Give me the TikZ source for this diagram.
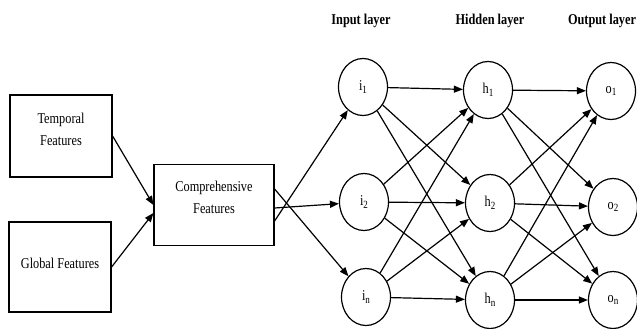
\documentclass[tikz,border=0pt]{standalone}
\usepackage{fontspec}
\setmainfont[FakeStretch=0.82]{Liberation Serif}
\usetikzlibrary{arrows.meta,shapes.geometric}
\newcommand{\idx}[1]{\raisebox{-2.5pt}{\fontsize{11}{12}\selectfont#1}}
\begin{document}
\begin{tikzpicture}[x=1pt,y=-1pt,
  feat/.style={draw,line width=1.2pt,inner sep=0pt},
  feattext/.style={align=center,inner sep=0pt,font=\fontsize{15}{22}\selectfont},
  neuron/.style={draw,line width=1.2pt,ellipse,minimum width=49pt,minimum height=57pt,inner sep=0pt,font=\fontsize{15}{16}\selectfont},
  layerlabel/.style={font=\fontsize{15}{17}\selectfont\bfseries},
  link/.style={line width=1.2pt,-{Triangle[length=9pt,width=7pt]}}]
\useasboundingbox (0,0) rectangle (637,329);
% feature boxes
\node[feat,minimum width=102pt,minimum height=82pt] (tf) at (61,136) {};
\node[feattext] (tft) at (61,129) {Temporal\\Features};
\node[feat,minimum width=102pt,minimum height=90pt] (gf) at (60,267) {};
\node[feattext] (gft) at (60,263) {Global Features};
\node[feat,minimum width=120pt,minimum height=81pt] (cf) at (214,205) {};
\node[feattext] (cft) at (214,197) {Comprehensive\\Features};
% layer titles
\node[layerlabel] (tin) at (361,21) {Input layer};
\node[layerlabel] (thid) at (490,21) {Hidden layer};
\node[layerlabel] (tout) at (602,21) {Output layer};
% neurons
\node[neuron] (i1) at (363,87) {i\idx{1}};
\node[neuron] (i2) at (364,202) {i\idx{2}};
\node[neuron] (in) at (366,297) {i\idx{n}};
\node[neuron] (h1) at (488,90) {h\idx{1}};
\node[neuron] (h2) at (490,203) {h\idx{2}};
\node[neuron] (hn) at (490,300) {h\idx{n}};
\node[neuron] (o1) at (611,91) {o\idx{1}};
\node[neuron] (o2) at (613,207) {o\idx{2}};
\node[neuron] (on) at (613,300) {o\idx{n}};
% features into the combined box
\draw[link] (tf.east) -- (cf.west);
\draw[link] (gf.east) -- ([yshift=-8pt]cf.west);
% combined box into the input layer
\draw[link] ([yshift=-16pt]cf.east) -- (i1);
\draw[link] ([yshift=-3pt]cf.east) -- (i2);
\draw[link] ([yshift=16pt]cf.east) -- (in);
% fully connected layers
\foreach \a in {i1,i2,in}{
  \foreach \b in {h1,h2,hn}{
    \draw[link] (\a) -- (\b);
  }
}
\foreach \a in {h1,h2,hn}{
  \foreach \b in {o1,o2,on}{
    \draw[link] (\a) -- (\b);
  }
}
\end{tikzpicture}
\end{document}
